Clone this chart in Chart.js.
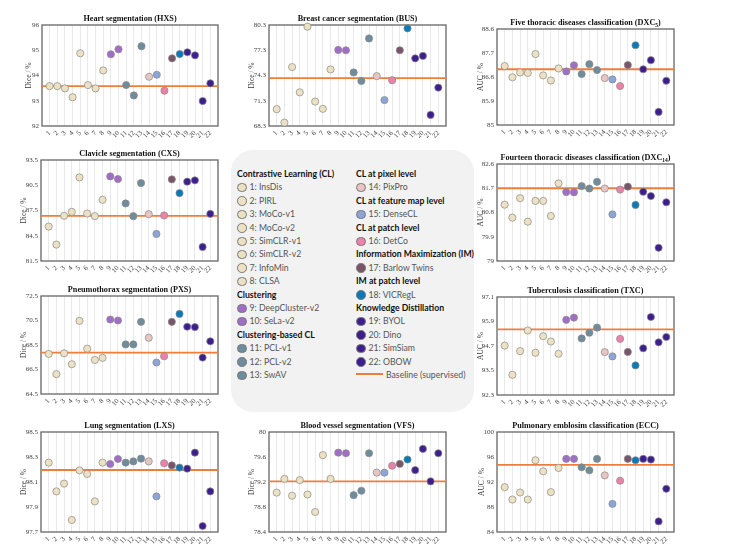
<!DOCTYPE html>
<html>
<head>
<meta charset="utf-8">
<script src="https://cdn.jsdelivr.net/npm/chart.js@4.4.1/dist/chart.umd.min.js"></script>
<style>
body{margin:0;background:#fff;width:738px;height:550px;position:relative;overflow:hidden;}
canvas{position:absolute;}
#legend{position:absolute;left:231px;top:150px;width:243px;height:262px;border-radius:22px;background:#f2f2f2;}
.row{position:absolute;font-family:Lato,"Liberation Sans",sans-serif;font-size:8.7px;white-space:nowrap;height:12px;line-height:12px;color:#555;}
.row.head{font-weight:bold;color:#111;}
.dot{display:inline-block;width:7.5px;height:7.5px;border-radius:50%;border:1px solid #777;vertical-align:-2px;margin-right:3px;}
.bl{display:inline-block;width:27px;height:2px;background:#f07d3a;vertical-align:3px;margin-right:3px;}
</style>
</head>
<body>
<div id="legend"></div>
<script>
// methods 1..22
var categories = [1,2,3,4,5,6,7,8,9,10,11,12,13,14,15,16,17,18,19,20,21,22];
var methods = ['InsDis','PIRL','MoCo-v1','MoCo-v2','SimCLR-v1','SimCLR-v2','InfoMin','CLSA',
  'DeepCluster-v2','SeLa-v2','PCL-v1','PCL-v2','SwAV','PixPro','DenseCL','DetCo',
  'Barlow Twins','VICRegL','BYOL','Dino','SimSiam','OBOW'];
var groupNames = ['Contrastive Learning (CL)','Clustering','Clustering-based CL','CL at pixel level',
  'CL at feature map level','CL at patch level','Information Maximization (IM)','IM at patch level','Knowledge Distillation'];
var groupOf = [0,0,0,0,0,0,0,0,1,1,2,2,2,3,4,5,6,7,8,8,8,8];
var groupColors = ['#ece1c3','#a06ec8','#6e8c9b','#e8c5c2','#8ca5d8','#ec82aa','#785569','#0a79b8','#3c1e8c'];
var baselineColor = '#f07d3a';

// values
var hxs   = [93.58,93.58,93.49,93.14,94.88,93.62,93.49,94.20,94.84,95.04,93.62,93.21,95.16,93.95,94.03,93.40,94.68,94.85,94.92,94.80,92.99,93.69];
var bus   = [70.3,68.7,75.3,72.3,80.1,71.2,70.34,75.02,77.34,77.3,74.66,73.66,78.7,74.22,71.38,73.74,77.3,79.9,76.34,76.62,69.62,72.86];
var dxc5  = [87.21,86.79,86.97,86.95,87.66,86.86,86.67,87.12,87.01,87.24,86.91,87.28,87.06,86.76,86.71,86.46,87.25,87.99,87.09,87.43,85.49,86.66];
var cxs   = [85.59,83.45,86.87,87.34,91.43,87.14,86.83,88.77,91.55,91.24,88.34,86.83,90.76,87.06,84.72,86.91,91.2,89.57,90.92,91.08,83.17,87.1];
var dxc14 = [81.09,80.61,81.33,80.46,81.23,81.23,80.67,81.88,81.56,81.55,81.78,81.69,81.94,81.69,80.73,81.65,81.76,81.08,81.57,81.41,79.49,81.18];
var pxs   = [67.77,66.12,67.82,66.93,70.47,68.2,67.28,67.45,70.58,70.5,68.55,68.55,70.39,69.09,67.07,67.58,70.39,71.04,69.99,69.96,67.47,68.8];
var txc   = [94.72,93.29,94.45,95.46,94.37,95.18,94.92,94.32,95.98,96.09,95.07,95.35,95.6,94.4,94.19,95.05,94.41,93.75,94.59,96.12,94.88,95.14];
var lxs   = [98.255,98.025,98.087,97.796,98.193,98.164,97.945,98.255,98.244,98.284,98.255,98.265,98.287,98.265,97.985,98.25,98.233,98.215,98.207,98.335,97.748,98.025];
var vfs   = [79.03,79.25,78.98,79.23,79.0,78.72,79.63,79.25,79.67,79.66,78.99,79.06,79.66,79.35,79.35,79.46,79.49,79.56,79.39,79.73,79.21,79.66];
var ecc   = [91.18,89.19,90.32,89.19,95.48,93.71,90.38,94.25,95.7,95.7,94.35,93.87,95.7,93.06,88.5,92.2,95.7,95.48,95.7,95.59,85.7,90.91];

var baseHxs = 93.58, baseBus = 73.98, baseDxc5 = 87.09, baseCxs = 86.87, baseDxc14 = 81.70;
var basePxs = 67.88, baseTxc = 95.51, baseLxs = 98.196, baseVfs = 79.21, baseEcc = 94.73;

var ticksHxs   = ['92','93','94','95','96'];
var ticksBus   = ['68.3','71.3','74.3','77.3','80.3'];
var ticksDxc5  = ['85','85.9','86.8','87.7','88.6'];
var ticksCxs   = ['81.5','84.5','87.5','90.5','93.5'];
var ticksDxc14 = ['79','79.9','80.8','81.7','82.6'];
var ticksPxs   = ['64.5','66.5','68.5','70.5','72.5'];
var ticksTxc   = ['92.3','93.5','94.7','95.9','97.1'];
var ticksLxs   = ['97.7','97.9','98.1','98.3','98.5'];
var ticksVfs   = ['78.4','78.8','79.2','79.6','80'];
var ticksEcc   = ['84','88','92','96','100'];

// panel layout: plot rect [left, top, right, bottom] in page px
var panels = [
  {title:'Heart segmentation (HXS)', y:'Dice / %', v:hxs, b:baseHxs, t:ticksHxs, r:[42,25,218,126], yt:27},
  {title:'Breast cancer segmentation (BUS)', y:'Dice / %', v:bus, b:baseBus, t:ticksBus, r:[269,25,446,126], yt:23},
  {title:'Five thoracic diseases classification (DXC', sub:'5', y:'AUC / %', v:dxc5, b:baseDxc5, t:ticksDxc5, r:[497,29,674,125], yt:24},
  {title:'Clavicle segmentation (CXS)', y:'Dice / %', v:cxs, b:baseCxs, t:ticksCxs, r:[41,160,218,261], yt:23},
  {title:'Fourteen thoracic diseases classification (DXC', sub:'14', y:'AUC / %', v:dxc14, b:baseDxc14, t:ticksDxc14, r:[497,164,674,261], yt:24},
  {title:'Pneumothorax segmentation (PXS)', y:'Dice / %', v:pxs, b:basePxs, t:ticksPxs, r:[41,296,218,394], yt:23},
  {title:'Tuberculosis classification (TXC)', y:'AUC / %', v:txc, b:baseTxc, t:ticksTxc, r:[497,297,674,395], yt:24},
  {title:'Lung segmentation (LXS)', y:'Dice / %', v:lxs, b:baseLxs, t:ticksLxs, r:[41,432,218,532], yt:23},
  {title:'Blood vessel segmentation (VFS)', y:'Dice / %', v:vfs, b:baseVfs, t:ticksVfs, r:[269,432,446,532], yt:23},
  {title:'Pulmonary emblosim classification (ECC)', y:'AUC / %', v:ecc, b:baseEcc, t:ticksEcc, r:[497,432,674,532], yt:25}
];

var SERIF = '"Liberation Serif","DejaVu Serif",serif';
var pointColors = groupOf.map(function(g){ return groupColors[g]; });

var framePlugin = {
  id: 'frame',
  beforeDatasetsDraw: function(chart){
    var a = chart.chartArea, ctx = chart.ctx;
    ctx.save();
    ctx.strokeStyle = '#666';
    ctx.lineWidth = 1.3;
    ctx.strokeRect(a.left, a.top, a.right - a.left, a.bottom - a.top);
    ctx.restore();
  },
  afterDraw: function(chart){
    var p = chart.options.plugins.frame, a = chart.chartArea, ctx = chart.ctx;
    ctx.save();
    ctx.fillStyle = '#111';
    ctx.textBaseline = 'middle';
    var main = 'bold 8.2px ' + SERIF, small = 'bold 5.5px ' + SERIF;
    ctx.font = main;
    var w1 = ctx.measureText(p.title).width, w3 = 0, w2 = 0;
    if (p.sub) {
      w3 = ctx.measureText(')').width;
      ctx.font = small; w2 = ctx.measureText(p.sub).width;
    }
    var x = (a.left + a.right) / 2 - (w1 + w2 + w3) / 2, y = a.top - 6;
    ctx.textAlign = 'left';
    ctx.font = main; ctx.fillText(p.title, x, y);
    if (p.sub) {
      ctx.font = small; ctx.fillText(p.sub, x + w1, y + 3);
      ctx.font = main; ctx.fillText(')', x + w1 + w2, y);
    }
    ctx.restore();
  }
};

panels.forEach(function(p){
  var L = 40, T = 20, B = 22, R = 8;
  var w = p.r[2] - p.r[0] + L + R, h = p.r[3] - p.r[1] + T + B;
  var c = document.createElement('canvas');
  c.width = w; c.height = h;
  c.style.left = (p.r[0] - L) + 'px';
  c.style.top = (p.r[1] - T) + 'px';
  c.style.width = w + 'px'; c.style.height = h + 'px';
  document.body.appendChild(c);
  var tickVals = p.t.map(parseFloat);
  new Chart(c, {
    type: 'scatter',
    data: {
      datasets: [{
        data: categories.map(function(x, i){ return {x: x, y: p.v[i]}; }),
        backgroundColor: pointColors,
        borderColor: '#8a8a8a',
        borderWidth: 0.7,
        pointRadius: 3.6,
        clip: false,
        order: 1
      }, {
        type: 'line',
        data: [{x: 0, y: p.b}, {x: 23, y: p.b}],
        borderColor: baselineColor,
        borderWidth: 1.8,
        pointRadius: 0,
        order: 2
      }]
    },
    options: {
      responsive: false,
      animation: false,
      events: [],
      layout: {autoPadding: false, padding: {top: T, right: R, left: 0, bottom: 0}},
      plugins: {
        legend: {display: false},
        tooltip: {enabled: false},
        frame: {title: p.title, sub: p.sub}
      },
      scales: {
        x: {
          type: 'linear', min: 0, max: 23,
          afterBuildTicks: function(s){ s.ticks = categories.map(function(v){ return {value: v}; }); },
          afterFit: function(s){ s.height = B; },
          grid: {color: '#e3e3e3', lineWidth: 0.8, drawTicks: false},
          border: {display: false},
          ticks: {autoSkip: false, minRotation: 45, maxRotation: 45, padding: 3, color: '#444',
            font: {family: SERIF, size: 7}, callback: function(v){ return String(v); }}
        },
        y: {
          min: tickVals[0], max: tickVals[tickVals.length - 1],
          afterBuildTicks: function(s){ s.ticks = tickVals.map(function(v){ return {value: v}; }); },
          afterFit: function(s){ s.width = L; },
          grid: {display: false, drawTicks: false},
          border: {display: false},
          ticks: {padding: 3, color: '#444', font: {family: SERIF, size: 7},
            callback: function(v, i){ return p.t[i]; }},
          title: {display: true, text: p.y, color: '#333', font: {family: SERIF, size: 7.5},
            padding: {top: p.yt - 4.5, bottom: 0}}
        }
      }
    },
    plugins: [framePlugin]
  });
});

// legend built from the method / group arrays
var legend = document.getElementById('legend');
var cols = [[0,1,2],[3,4,5,6,7,8]];
var colX = [6, 125];
cols.forEach(function(gs, ci){
  var row = 0;
  function add(html, cls){
    var d = document.createElement('div');
    d.className = 'row' + (cls ? ' ' + cls : '');
    d.style.left = colX[ci] + 'px';
    d.style.top = (24 + row * 13.4 - 6) + 'px';
    d.innerHTML = html;
    legend.appendChild(d);
    row++;
  }
  gs.forEach(function(g){
    add(groupNames[g], 'head');
    groupOf.forEach(function(gg, i){
      if (gg === g) add('<span class="dot" style="background:' + groupColors[g] + '"></span>' + categories[i] + ': ' + methods[i]);
    });
  });
  if (ci === 1) add('<span class="bl"></span>Baseline (supervised)');
});
</script>
</body>
</html>
